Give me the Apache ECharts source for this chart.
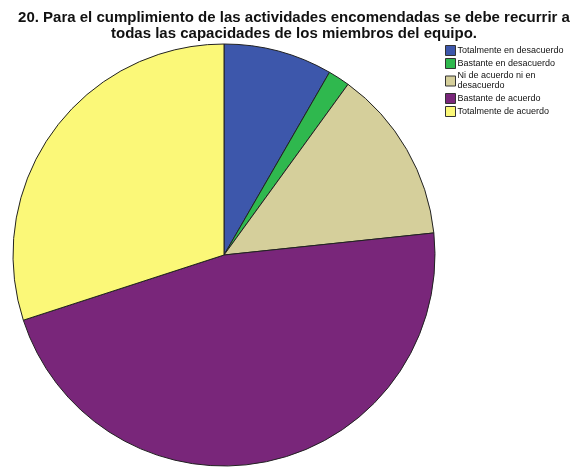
<!DOCTYPE html>
<html>
<head>
<meta charset="utf-8">
<script src="https://cdn.jsdelivr.net/npm/echarts@6/dist/echarts.min.js"></script>
<style>
  html, body { margin: 0; padding: 0; background: #fff; }
  #chart { width: 579px; height: 468px; }
</style>
</head>
<body>
<div id="chart"></div>
<script>
// Response categories and their counts
const categories = [
  'Totalmente en desacuerdo',
  'Bastante en desacuerdo',
  'Ni de acuerdo ni en\ndesacuerdo',
  'Bastante de acuerdo',
  'Totalmente de acuerdo'
];
const counts = [5, 1, 8, 28, 18];
const colors = ['#3d57ab', '#2fb84e', '#d5cf9b', '#79267a', '#fbf878'];
const titleText = '20. Para el cumplimiento de las actividades encomendadas se debe recurrir a\ntodas las capacidades de los miembros del equipo.';

const chart = echarts.init(document.getElementById('chart'), null, { renderer: 'canvas' });
chart.setOption({
  animation: false,
  backgroundColor: '#fff',
  title: {
    text: titleText,
    left: 289,
    textAlign: 'center',
    top: 5,
    textStyle: {
      fontFamily: 'Liberation Sans, Arial, sans-serif',
      fontWeight: 'bold',
      fontSize: 15,
      lineHeight: 16,
      color: '#111'
    }
  },
  legend: {
    orient: 'vertical',
    left: 440,
    top: 40,
    itemWidth: 10,
    itemHeight: 10,
    itemGap: 2,
    icon: 'rect',
    itemStyle: { borderColor: '#333', borderWidth: 1 },
    textStyle: {
      fontFamily: 'Liberation Sans, Arial, sans-serif',
      fontSize: 9,
      lineHeight: 10,
      color: '#111',
      padding: [0, 0, 0, -3]
    },
    data: categories
  },
  series: [{
    type: 'pie',
    center: [224, 255],
    radius: 211,
    startAngle: 90,
    clockwise: true,
    label: { show: false },
    labelLine: { show: false },
    emphasis: { disabled: true },
    itemStyle: { borderColor: '#222', borderWidth: 1 },
    data: categories.map((c, i) => ({
      name: c,
      value: counts[i],
      itemStyle: { color: colors[i] }
    }))
  }]
});
</script>
</body>
</html>
